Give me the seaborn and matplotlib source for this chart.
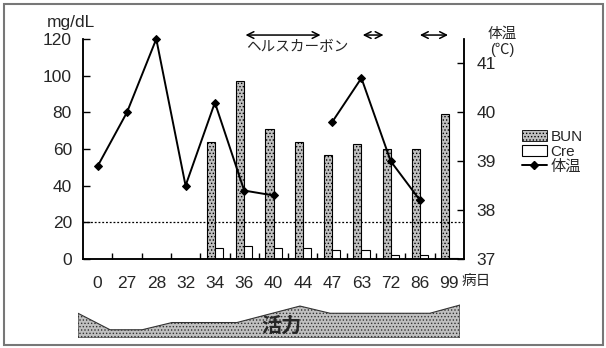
import numpy as np
import pandas as pd
import seaborn as sns
import matplotlib.pyplot as plt
from matplotlib.patches import Patch, Rectangle
from matplotlib.lines import Line2D

# values
days = ['0', '27', '28', '32', '34', '36', '40', '44', '47', '63', '72', '86', '99']
bun = [np.nan] * 4 + [64, 97, 71, 64, 57, 63, 60, 60, 79]
cre = [np.nan] * 4 + [6, 7, 6, 6, 5, 5, 2, 2, 0.5]
temp = [38.9, 40.0, 41.5, 38.5, 40.2, 38.4, 38.3, np.nan, 39.8, 40.7, 39.0, 38.2, np.nan]

# treatment periods (in category units) shown as arrows above the plot
therapy_start = [4.95, 8.95, 10.9]
therapy_end = [7.7, 9.85, 12.05]
therapy_label = 'ヘルスカーボン'

# vigor band below the chart (relative position, level)
vigor_x = [0, 0.084, 0.168, 0.246, 0.416, 0.581, 0.66, 0.921, 1.0]
vigor = [24, 8, 8, 15, 15, 31, 24, 24, 32]

sns.set_theme(style='white')
plt.rcParams['font.family'] = ['Liberation Sans', 'Noto Sans CJK JP']
plt.rcParams['hatch.linewidth'] = 0.6
FS = 12.5   # numbers / latin
JFS = 10.5  # japanese labels

fig = plt.figure(figsize=(6.06, 3.48), dpi=100)
ax = fig.add_axes([83 / 606, 1 - 259 / 348, 381 / 606, 220 / 348])

bars = pd.DataFrame({'day': days * 2, 'value': bun + cre,
                     'kind': ['BUN'] * len(days) + ['Cre'] * len(days)})
sns.barplot(data=bars, x='day', y='value', hue='kind', order=days,
            hue_order=['BUN', 'Cre'], palette={'BUN': '#c0c0c0', 'Cre': 'white'},
            width=0.56, gap=0, edgecolor='black', linewidth=0.8,
            errorbar=None, legend=False, ax=ax)
for bar in ax.containers[0]:
    bar.set_hatch('.....')

ax.axhline(20, color='black', ls=(0, (1.5, 1.5)), lw=0.9)

# body temperature on the right axis, broken where no measurement
ax2 = ax.twinx()
tdf = pd.DataFrame({'pos': np.arange(len(days)), 'temp': temp})
tdf['seg'] = tdf['temp'].isna().cumsum()
sns.lineplot(data=tdf, x='pos', y='temp', units='seg', estimator=None,
             color='black', lw=1.4, marker='D', markersize=4.5,
             markeredgecolor='black', ax=ax2, clip_on=False)

ax.set_xlim(-0.5, len(days) - 0.5)
ax.set_ylim(0, 120)
ax.set_yticks(range(0, 121, 20))
ax2.set_ylim(37, 41.5)
ax2.set_yticks([37, 38, 39, 40, 41])
for a in (ax, ax2):
    a.set_xlabel('')
    a.set_ylabel('')
    a.spines['top'].set_visible(False)
    for s in a.spines.values():
        s.set_color('black')
        s.set_linewidth(1.1)

ax.set_xticks(range(len(days)))
ax.set_xticklabels(days)
ax.set_xticks(np.arange(0.5, len(days) - 1, 1), minor=True)
ax.tick_params(axis='x', which='major', length=0, pad=12, labelsize=FS)
ax.tick_params(axis='x', which='minor', direction='in', length=4, width=1, color='black', bottom=True)
ax.tick_params(axis='y', direction='in', length=5, width=1, pad=8, labelsize=FS, color='black', left=True)
ax2.tick_params(axis='y', direction='in', length=5, width=1, pad=9, labelsize=FS, color='black', right=True)

# treatment arrows
xtr = ax.get_xaxis_transform()
for s, e in zip(therapy_start, therapy_end):
    ax.annotate('', xy=(e, 1.018), xytext=(s, 1.018), xycoords=xtr, textcoords=xtr,
                arrowprops=dict(arrowstyle='<->', lw=1.1, color='black'),
                annotation_clip=False)
ax.text(therapy_start[0] + 0.12, 0.965, therapy_label, transform=xtr,
        ha='left', va='center', fontsize=JFS)

fig.text(71 / 606, 1 - 22 / 348, 'mg/dL', ha='center', va='center', fontsize=FS)
fig.text(502 / 606, 1 - 34 / 348, '体温', ha='center', va='center', fontsize=JFS)
fig.text(502 / 606, 1 - 50 / 348, '(℃)', ha='center', va='center', fontsize=JFS)
fig.text(476 / 606, 1 - 281 / 348, '病日', ha='center', va='center', fontsize=JFS)

handles = [Patch(facecolor='#c0c0c0', edgecolor='black', hatch='.....', lw=0.6),
           Patch(facecolor='white', edgecolor='black', lw=0.8),
           Line2D([], [], color='black', lw=1.4, marker='D', markersize=4.5)]
leg = fig.legend(handles, ['BUN', 'Cre', '体温'], loc='upper left',
                 bbox_to_anchor=(516 / 606, 1 - 124 / 348), frameon=False,
                 handlelength=1.6, handleheight=0.7, handletextpad=0.25,
                 labelspacing=0.05, fontsize=11, borderaxespad=0)

# vigor band
ax3 = fig.add_axes([78 / 606, 1 - 338 / 348, 382 / 606, 34 / 348])
ax3.fill_between(vigor_x, vigor, facecolor='#c0c0c0', hatch='.....',
                 edgecolor='#333333', lw=0.8)
ax3.set_xlim(0, 1)
ax3.set_ylim(0, 33)
ax3.axis('off')
fig.text(281 / 606, 1 - 326 / 348, '活力', ha='center', va='center',
         fontsize=14.5, fontweight='bold')

fig.add_artist(Rectangle((4 / 606, 3 / 348), 599 / 606, 341 / 348,
                         transform=fig.transFigure, fill=False,
                         edgecolor='#777777', lw=1.5))

fig.savefig('out.png', dpi=100)
